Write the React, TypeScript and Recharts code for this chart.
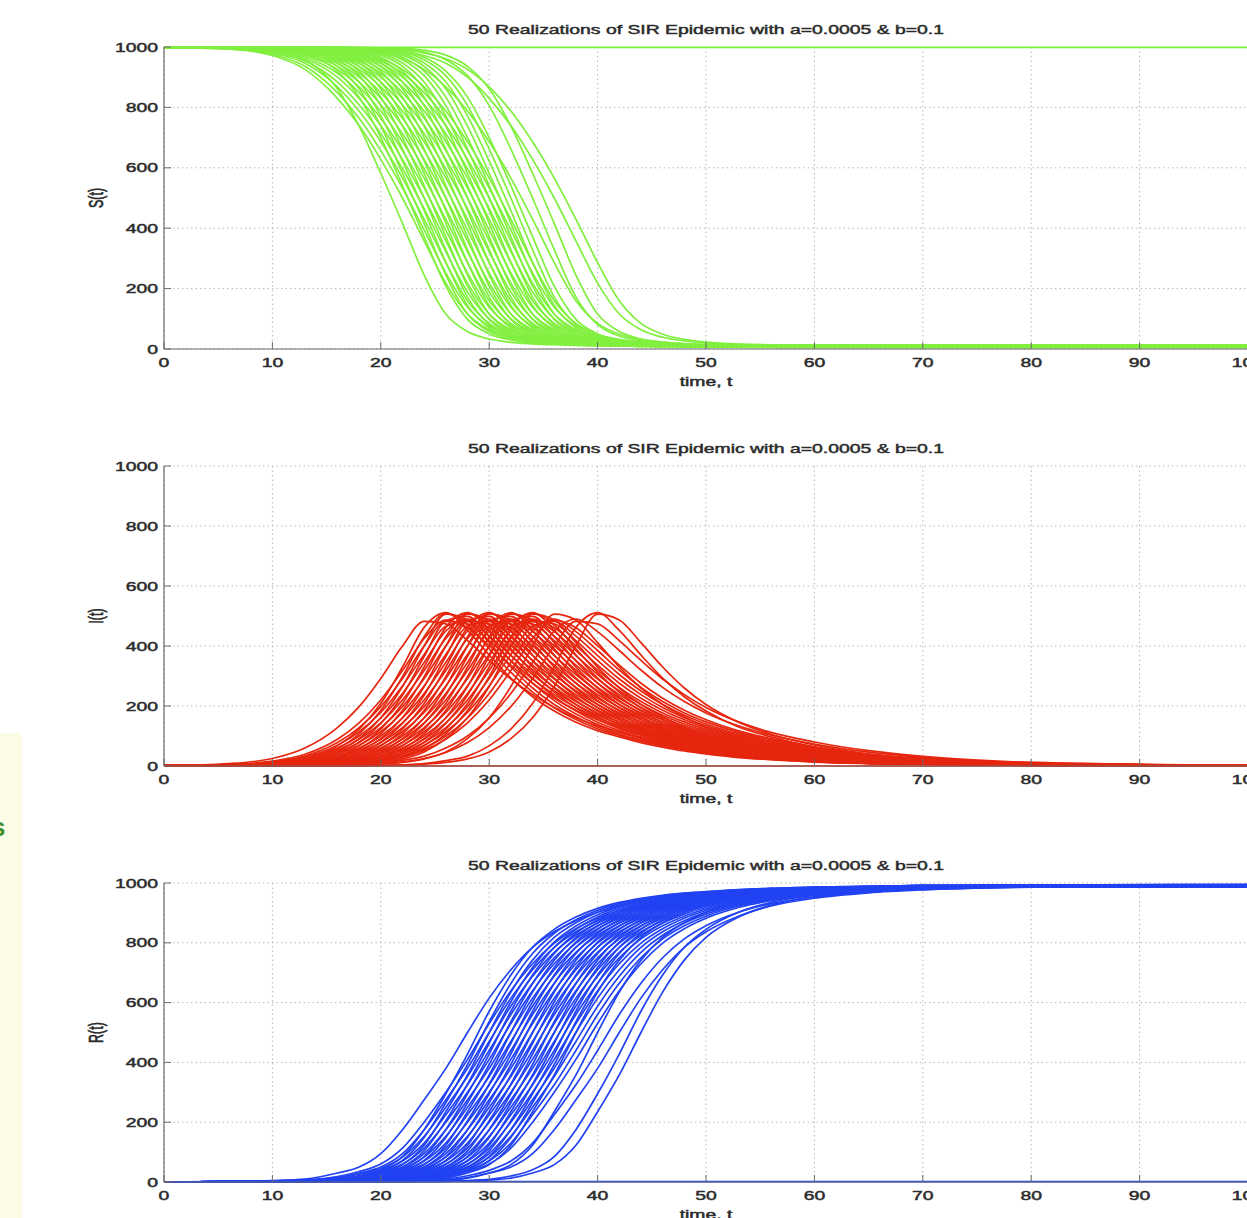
import React from 'react';
import { LineChart, Line, XAxis, YAxis, CartesianGrid } from 'recharts';

// ---------- data ----------
const TIME = [0, 6, 10, 13, 16, 18, 20, 22, 24, 26, 28, 30, 32, 34, 36, 38, 40, 42, 44, 46, 48, 50, 53, 56, 60, 65, 70, 80, 100];
const X_TICKS = [0, 10, 20, 30, 40, 50, 60, 70, 80, 90, 100];
const Y_TICKS = [0, 200, 400, 600, 800, 1000];
const TITLE = '50 Realizations of SIR Epidemic with a=0.0005 & b=0.1';
const X_LABEL = 'time, t';

const S_RUNS: number[][] = [
  [999, 997, 989, 958, 862, 738, 582, 416, 245, 116, 58, 33, 22, 17, 14, 12, 11, 11, 8, 8, 7, 7, 6, 6, 6, 6, 6, 6, 6],
  [999, 993, 972, 926, 830, 740, 628, 500, 358, 218, 116, 64, 39, 27, 20, 16, 14, 12, 11, 10, 10, 10, 10, 10, 10, 10, 10, 10, 10],
  [999, 998, 994, 978, 920, 834, 700, 541, 372, 208, 98, 50, 30, 20, 16, 13, 11, 11, 9, 9, 9, 8, 7, 7, 7, 7, 7, 7, 7],
  [999, 998, 995, 983, 936, 862, 738, 582, 416, 245, 116, 58, 33, 22, 17, 14, 12, 12, 12, 12, 12, 12, 12, 12, 12, 12, 12, 12, 12],
  [999, 996, 983, 954, 884, 809, 713, 597, 465, 322, 189, 100, 56, 35, 25, 19, 15, 13, 12, 11, 10, 10, 9, 9, 9, 9, 9, 9, 9],
  [999, 999, 996, 989, 958, 905, 806, 662, 500, 329, 172, 81, 43, 27, 19, 15, 13, 11, 11, 7, 7, 7, 6, 5, 5, 5, 5, 5, 5],
  [999, 996, 986, 961, 900, 830, 740, 628, 500, 358, 218, 116, 64, 39, 27, 20, 16, 14, 12, 11, 11, 11, 11, 11, 11, 11, 11, 11, 11],
  [999, 999, 997, 991, 966, 920, 834, 700, 541, 372, 208, 98, 50, 30, 20, 16, 13, 11, 11, 10, 10, 10, 9, 8, 8, 8, 8, 8, 8],
  [999, 999, 997, 993, 973, 936, 862, 738, 582, 416, 245, 116, 58, 33, 22, 17, 14, 13, 13, 13, 13, 13, 13, 13, 13, 13, 13, 13, 13],
  [999, 997, 990, 972, 926, 868, 788, 686, 566, 430, 286, 160, 85, 49, 32, 23, 18, 15, 13, 11, 11, 9, 8, 8, 7, 7, 7, 7, 7],
  [999, 999, 998, 994, 978, 947, 884, 772, 622, 458, 287, 144, 70, 38, 25, 18, 15, 13, 11, 11, 10, 10, 9, 9, 9, 9, 9, 9, 9],
  [999, 999, 998, 995, 983, 958, 905, 806, 662, 500, 329, 172, 81, 43, 27, 19, 15, 13, 11, 11, 8, 8, 7, 7, 6, 6, 6, 6, 6],
  [999, 998, 993, 980, 946, 900, 830, 740, 628, 500, 358, 218, 116, 64, 39, 27, 20, 16, 14, 12, 12, 12, 12, 12, 12, 12, 12, 12, 12],
  [999, 999, 998, 996, 986, 966, 920, 834, 700, 541, 372, 208, 98, 50, 30, 20, 16, 13, 11, 11, 10, 10, 9, 9, 8, 8, 8, 8, 8],
  [999, 999, 998, 996, 989, 973, 936, 862, 738, 582, 416, 245, 116, 58, 33, 22, 17, 14, 12, 11, 11, 10, 10, 10, 10, 10, 10, 10, 10],
  [999, 999, 995, 986, 961, 926, 868, 788, 686, 566, 430, 286, 160, 85, 49, 32, 23, 18, 15, 13, 11, 11, 7, 6, 5, 5, 5, 5, 5],
  [999, 999, 999, 997, 991, 978, 947, 884, 772, 622, 458, 287, 144, 70, 38, 25, 18, 15, 13, 11, 11, 10, 10, 9, 9, 9, 9, 9, 9],
  [999, 999, 999, 997, 993, 983, 958, 905, 806, 662, 500, 329, 172, 81, 43, 27, 19, 15, 13, 11, 11, 11, 11, 11, 11, 11, 11, 11, 11],
  [999, 999, 996, 990, 972, 946, 900, 830, 740, 628, 500, 358, 218, 116, 64, 39, 27, 20, 16, 14, 12, 11, 9, 8, 8, 7, 7, 7, 7],
  [999, 999, 999, 998, 994, 986, 966, 920, 834, 700, 541, 372, 208, 98, 50, 30, 20, 16, 13, 13, 13, 13, 13, 13, 13, 13, 13, 13, 13],
  [999, 999, 999, 998, 995, 989, 973, 936, 862, 738, 582, 416, 245, 116, 58, 33, 22, 17, 14, 12, 11, 11, 10, 9, 8, 8, 8, 8, 8],
  [999, 999, 998, 994, 983, 967, 936, 884, 809, 713, 597, 465, 322, 189, 100, 56, 35, 25, 19, 15, 13, 12, 8, 8, 7, 6, 6, 6, 6],
  [999, 999, 999, 998, 996, 993, 983, 958, 905, 806, 662, 500, 329, 172, 81, 43, 27, 19, 15, 13, 11, 11, 10, 10, 10, 10, 10, 10, 10],
  [999, 999, 999, 999, 997, 994, 986, 966, 920, 834, 700, 541, 372, 208, 98, 50, 30, 20, 16, 13, 11, 11, 10, 10, 9, 9, 9, 9, 9],
  [999, 999, 999, 996, 990, 980, 961, 926, 868, 788, 686, 566, 430, 286, 160, 85, 49, 32, 23, 18, 15, 13, 12, 12, 12, 12, 12, 12, 12],
  [999, 999, 999, 999, 998, 996, 991, 978, 947, 884, 772, 622, 458, 287, 144, 70, 38, 25, 18, 15, 13, 11, 9, 9, 8, 7, 7, 7, 7],
  [999, 999, 999, 999, 998, 996, 993, 983, 958, 905, 806, 662, 500, 329, 172, 81, 43, 27, 19, 15, 13, 11, 11, 11, 11, 11, 11, 11, 11],
  [999, 999, 999, 998, 995, 990, 980, 961, 926, 868, 788, 686, 566, 430, 286, 160, 85, 49, 32, 23, 18, 15, 12, 11, 7, 6, 5, 5, 5],
  [999, 999, 999, 999, 999, 998, 996, 993, 983, 958, 905, 806, 662, 500, 329, 172, 81, 43, 27, 19, 15, 13, 11, 10, 10, 9, 9, 9, 9],
  [999, 999, 999, 999, 999, 998, 997, 995, 989, 973, 936, 862, 738, 582, 416, 245, 116, 58, 33, 22, 17, 14, 11, 11, 10, 9, 8, 8, 8],
  [999, 999, 999, 999, 998, 996, 993, 986, 972, 946, 900, 830, 740, 628, 500, 358, 218, 116, 64, 39, 27, 20, 15, 14, 14, 14, 14, 14, 14],
  [999, 999, 999, 999, 999, 997, 995, 990, 980, 961, 926, 868, 788, 686, 566, 430, 286, 160, 85, 49, 32, 23, 16, 13, 11, 10, 10, 10, 10],
  [999, 995, 980, 946, 868, 788, 686, 566, 430, 286, 160, 85, 49, 32, 23, 18, 15, 13, 11, 11, 8, 8, 7, 6, 6, 6, 6, 6, 6],
  [999, 998, 994, 983, 954, 913, 849, 764, 657, 533, 394, 252, 138, 75, 44, 30, 22, 17, 15, 13, 11, 11, 11, 11, 11, 11, 11, 11, 11],
  [999, 999, 997, 992, 976, 954, 913, 849, 764, 657, 533, 394, 252, 138, 75, 44, 30, 22, 17, 15, 13, 11, 10, 10, 9, 8, 8, 8, 8],
  [999, 999, 998, 995, 986, 972, 946, 900, 830, 740, 628, 500, 358, 218, 116, 64, 39, 27, 20, 16, 14, 12, 12, 12, 12, 12, 12, 12, 12],
  [999, 994, 976, 936, 849, 764, 657, 533, 394, 252, 138, 75, 44, 30, 22, 17, 15, 13, 11, 10, 10, 10, 9, 9, 9, 9, 9, 9, 9],
  [999, 999, 996, 986, 947, 884, 772, 622, 458, 287, 144, 70, 38, 25, 18, 15, 13, 11, 11, 11, 11, 11, 11, 11, 11, 11, 11, 11, 11],
  [999, 997, 988, 967, 913, 849, 764, 657, 533, 394, 252, 138, 75, 44, 30, 22, 17, 15, 13, 11, 9, 9, 8, 8, 7, 7, 7, 7, 7],
  [999, 998, 992, 976, 936, 884, 809, 713, 597, 465, 322, 189, 100, 56, 35, 25, 19, 15, 13, 13, 13, 13, 13, 13, 13, 13, 13, 13, 13],
  [999, 999, 996, 988, 967, 936, 884, 809, 713, 597, 465, 322, 189, 100, 56, 35, 25, 19, 15, 13, 12, 11, 8, 7, 7, 6, 6, 6, 6],
  [999, 999, 997, 993, 980, 961, 926, 868, 788, 686, 566, 430, 286, 160, 85, 49, 32, 23, 18, 15, 13, 11, 10, 10, 10, 10, 10, 10, 10],
  [999, 999, 999, 998, 996, 991, 978, 947, 884, 772, 622, 458, 287, 144, 70, 38, 25, 18, 15, 13, 11, 11, 10, 10, 8, 8, 8, 8, 8],
  [999, 999, 998, 996, 988, 976, 954, 913, 849, 764, 657, 533, 394, 252, 138, 75, 44, 30, 22, 17, 15, 13, 12, 12, 12, 12, 12, 12, 12],
  [999, 999, 999, 999, 997, 995, 989, 973, 936, 862, 738, 582, 416, 245, 116, 58, 33, 22, 17, 14, 12, 11, 10, 10, 9, 9, 9, 9, 9],
  [999, 999, 999, 999, 998, 997, 994, 986, 966, 920, 834, 700, 541, 372, 208, 98, 50, 30, 20, 16, 13, 11, 11, 9, 8, 7, 7, 7, 7],
];
const S_FLAT = [999, 999, 999, 999, 999, 999, 999, 999, 999, 999, 999, 999, 999, 999, 999, 999, 999, 999, 999, 999, 999, 999, 999, 999, 999, 999, 999, 999, 999];

const I_RUNS: number[][] = [
  [1, 8, 25, 60, 128, 198, 292, 400, 482, 474, 418, 352, 290, 238, 195, 161, 134, 112, 95, 80, 67, 56, 42, 32, 22, 14, 9, 3, 0],
  [1, 3, 8, 24, 67, 123, 208, 330, 462, 511, 452, 370, 293, 231, 183, 146, 118, 97, 78, 63, 50, 40, 28, 21, 13, 8, 5, 2, 0],
  [1, 5, 16, 39, 89, 144, 220, 318, 425, 486, 461, 401, 336, 276, 226, 186, 154, 128, 107, 91, 76, 64, 48, 36, 25, 16, 10, 4, 1],
  [1, 4, 14, 33, 78, 128, 198, 292, 400, 482, 474, 418, 352, 290, 238, 195, 161, 134, 112, 95, 80, 67, 51, 38, 26, 17, 10, 4, 1],
  [1, 2, 5, 15, 40, 79, 142, 236, 365, 484, 499, 431, 350, 276, 218, 173, 138, 112, 92, 74, 60, 47, 34, 24, 16, 9, 6, 2, 0],
  [1, 3, 11, 25, 60, 100, 160, 242, 345, 450, 490, 448, 385, 320, 262, 215, 177, 147, 122, 103, 87, 73, 56, 42, 29, 18, 11, 5, 1],
  [1, 1, 4, 12, 33, 67, 123, 208, 330, 462, 511, 452, 370, 293, 231, 183, 146, 118, 97, 78, 63, 50, 36, 26, 17, 9, 6, 2, 0],
  [1, 3, 10, 22, 52, 89, 144, 220, 318, 425, 486, 461, 401, 336, 276, 226, 186, 154, 128, 107, 91, 76, 58, 44, 30, 19, 11, 5, 1],
  [1, 3, 8, 19, 45, 78, 128, 198, 292, 400, 482, 474, 418, 352, 290, 238, 195, 161, 134, 112, 95, 80, 61, 46, 32, 20, 12, 5, 1],
  [1, 1, 3, 8, 24, 47, 91, 161, 265, 400, 506, 487, 411, 330, 260, 205, 164, 130, 106, 87, 70, 57, 40, 28, 18, 10, 7, 3, 0],
  [1, 3, 7, 16, 39, 69, 114, 179, 267, 372, 466, 482, 433, 368, 305, 250, 205, 169, 140, 117, 99, 83, 64, 48, 33, 21, 13, 5, 1],
  [1, 2, 6, 14, 33, 60, 100, 160, 242, 345, 450, 490, 448, 385, 320, 262, 215, 177, 147, 122, 103, 87, 67, 51, 35, 22, 14, 6, 1],
  [1, 1, 3, 6, 18, 33, 67, 123, 208, 330, 462, 511, 452, 370, 293, 231, 183, 146, 118, 97, 78, 63, 45, 32, 21, 11, 7, 3, 0],
  [1, 2, 5, 13, 29, 52, 89, 144, 220, 318, 425, 486, 461, 401, 336, 276, 226, 186, 154, 128, 107, 91, 70, 54, 36, 23, 15, 6, 1],
  [1, 2, 4, 11, 25, 45, 78, 128, 198, 292, 400, 482, 474, 418, 352, 290, 238, 195, 161, 134, 112, 95, 73, 56, 38, 24, 15, 6, 1],
  [1, 1, 2, 4, 12, 24, 47, 91, 161, 265, 400, 506, 487, 411, 330, 260, 205, 164, 130, 106, 87, 70, 50, 36, 23, 13, 8, 3, 0],
  [1, 2, 4, 10, 22, 39, 69, 114, 179, 267, 372, 466, 482, 433, 368, 305, 250, 205, 169, 140, 117, 99, 76, 58, 40, 25, 16, 7, 1],
  [1, 1, 3, 8, 19, 33, 60, 100, 160, 242, 345, 450, 490, 448, 385, 320, 262, 215, 177, 147, 122, 103, 80, 61, 42, 26, 17, 7, 1],
  [1, 1, 1, 3, 8, 18, 33, 67, 123, 208, 330, 462, 511, 452, 370, 293, 231, 183, 146, 118, 97, 78, 57, 40, 26, 15, 9, 4, 0],
  [1, 1, 3, 7, 16, 29, 52, 89, 144, 220, 318, 425, 486, 461, 401, 336, 276, 226, 186, 154, 128, 107, 83, 64, 44, 28, 18, 7, 1],
  [1, 1, 3, 6, 14, 25, 45, 78, 128, 198, 292, 400, 482, 474, 418, 352, 290, 238, 195, 161, 134, 112, 87, 67, 46, 29, 18, 7, 1],
  [1, 1, 1, 2, 5, 10, 21, 40, 79, 142, 236, 365, 484, 499, 431, 350, 276, 218, 173, 138, 112, 92, 67, 47, 30, 18, 10, 5, 1],
  [1, 1, 2, 4, 11, 19, 33, 60, 100, 160, 242, 345, 450, 490, 448, 385, 320, 262, 215, 177, 147, 122, 95, 73, 51, 32, 20, 8, 1],
  [1, 1, 2, 4, 10, 16, 29, 52, 89, 144, 220, 318, 425, 486, 461, 401, 336, 276, 226, 186, 154, 128, 99, 76, 54, 33, 21, 9, 2],
  [1, 1, 1, 1, 3, 6, 12, 24, 47, 91, 161, 265, 400, 506, 487, 411, 330, 260, 205, 164, 130, 106, 78, 57, 36, 21, 11, 5, 1],
  [1, 1, 2, 3, 7, 13, 22, 39, 69, 114, 179, 267, 372, 466, 482, 433, 368, 305, 250, 205, 169, 140, 107, 83, 58, 36, 23, 9, 2],
  [1, 1, 1, 3, 6, 11, 19, 33, 60, 100, 160, 242, 345, 450, 490, 448, 385, 320, 262, 215, 177, 147, 112, 87, 61, 38, 24, 9, 2],
  [1, 1, 1, 1, 2, 3, 6, 12, 24, 47, 91, 161, 265, 400, 506, 487, 411, 330, 260, 205, 164, 130, 97, 70, 45, 26, 15, 6, 1],
  [1, 1, 1, 2, 3, 6, 11, 19, 33, 60, 100, 160, 242, 345, 450, 490, 448, 385, 320, 262, 215, 177, 134, 103, 73, 46, 29, 11, 2],
  [1, 1, 1, 1, 3, 4, 8, 14, 25, 45, 78, 128, 198, 292, 400, 482, 474, 418, 352, 290, 238, 195, 147, 112, 80, 51, 32, 12, 2],
  [1, 1, 1, 1, 1, 1, 3, 4, 8, 18, 33, 67, 123, 208, 330, 462, 511, 452, 370, 293, 231, 183, 130, 97, 63, 36, 21, 7, 1],
  [1, 1, 1, 1, 1, 1, 2, 3, 6, 12, 24, 47, 91, 161, 265, 400, 506, 487, 411, 330, 260, 205, 146, 106, 70, 40, 23, 8, 1],
  [1, 2, 6, 18, 47, 91, 161, 265, 400, 506, 487, 411, 330, 260, 205, 164, 130, 106, 87, 70, 57, 45, 32, 23, 15, 9, 6, 2, 0],
  [1, 1, 3, 5, 15, 29, 57, 107, 185, 298, 431, 509, 470, 391, 312, 246, 194, 155, 124, 102, 83, 67, 47, 34, 22, 12, 8, 3, 0],
  [1, 1, 1, 3, 7, 15, 29, 57, 107, 185, 298, 431, 509, 470, 391, 312, 246, 194, 155, 124, 102, 83, 60, 43, 27, 16, 9, 4, 1],
  [1, 1, 1, 2, 4, 8, 18, 33, 67, 123, 208, 330, 462, 511, 452, 370, 293, 231, 183, 146, 118, 97, 70, 50, 32, 18, 10, 5, 1],
  [1, 2, 7, 21, 57, 107, 185, 298, 431, 509, 470, 391, 312, 246, 194, 155, 124, 102, 83, 67, 54, 43, 30, 22, 14, 9, 6, 2, 0],
  [1, 4, 13, 29, 69, 114, 179, 267, 372, 466, 482, 433, 368, 305, 250, 205, 169, 140, 117, 99, 83, 70, 54, 40, 28, 18, 10, 4, 1],
  [1, 1, 4, 10, 29, 57, 107, 185, 298, 431, 509, 470, 391, 312, 246, 194, 155, 124, 102, 83, 67, 54, 38, 27, 18, 10, 7, 2, 0],
  [1, 1, 3, 7, 21, 40, 79, 142, 236, 365, 484, 499, 431, 350, 276, 218, 173, 138, 112, 92, 74, 60, 43, 30, 20, 11, 7, 3, 0],
  [1, 1, 2, 4, 10, 21, 40, 79, 142, 236, 365, 484, 499, 431, 350, 276, 218, 173, 138, 112, 92, 74, 54, 38, 24, 14, 9, 4, 1],
  [1, 1, 1, 3, 6, 12, 24, 47, 91, 161, 265, 400, 506, 487, 411, 330, 260, 205, 164, 130, 106, 87, 63, 45, 28, 17, 9, 4, 1],
  [1, 1, 3, 5, 13, 22, 39, 69, 114, 179, 267, 372, 466, 482, 433, 368, 305, 250, 205, 169, 140, 117, 91, 70, 48, 30, 19, 8, 2],
  [1, 1, 1, 2, 4, 7, 15, 29, 57, 107, 185, 298, 431, 509, 470, 391, 312, 246, 194, 155, 124, 102, 74, 54, 34, 20, 11, 5, 1],
  [1, 1, 2, 3, 8, 14, 25, 45, 78, 128, 198, 292, 400, 482, 474, 418, 352, 290, 238, 195, 161, 134, 103, 80, 56, 35, 22, 9, 2],
  [1, 1, 1, 3, 5, 10, 16, 29, 52, 89, 144, 220, 318, 425, 486, 461, 401, 336, 276, 226, 186, 154, 117, 91, 64, 40, 25, 10, 2],
];
const I_FLAT = [1, 0, 0, 0, 0, 0, 0, 0, 0, 0, 0, 0, 0, 0, 0, 0, 0, 0, 0, 0, 0, 0, 0, 0, 0, 0, 0, 0, 0];

const R_RUNS: number[][] = [
  [0, 2, 5, 10, 30, 50, 95, 175, 275, 380, 500, 615, 710, 785, 837, 874, 902, 923, 938, 949, 957, 964, 971, 977, 982, 986, 988, 993, 994],
  [0, 1, 2, 4, 9, 20, 41, 85, 175, 295, 428, 571, 692, 785, 845, 886, 915, 935, 949, 959, 966, 971, 978, 982, 986, 989, 990, 990, 990],
  [0, 1, 4, 7, 18, 35, 60, 113, 200, 300, 410, 530, 640, 730, 799, 847, 882, 908, 927, 941, 951, 959, 968, 974, 980, 985, 988, 991, 993],
  [0, 1, 3, 6, 15, 30, 50, 95, 175, 275, 380, 500, 615, 710, 785, 837, 874, 902, 923, 938, 949, 957, 967, 973, 979, 985, 987, 988, 988],
  [0, 1, 1, 3, 6, 11, 25, 50, 104, 205, 327, 464, 603, 717, 802, 856, 894, 921, 939, 952, 961, 968, 975, 980, 985, 988, 990, 991, 991],
  [0, 1, 2, 5, 10, 21, 39, 70, 130, 225, 325, 440, 560, 665, 750, 813, 857, 889, 913, 931, 944, 953, 964, 971, 978, 984, 987, 993, 995],
  [0, 1, 1, 2, 5, 9, 20, 41, 85, 175, 295, 428, 571, 692, 785, 845, 886, 915, 935, 949, 959, 966, 974, 979, 985, 988, 989, 989, 989],
  [0, 1, 2, 5, 9, 18, 35, 60, 113, 200, 300, 410, 530, 640, 730, 799, 847, 882, 908, 927, 941, 951, 963, 970, 978, 984, 987, 990, 992],
  [0, 1, 2, 4, 8, 15, 30, 50, 95, 175, 275, 380, 500, 615, 710, 785, 837, 874, 902, 923, 938, 949, 961, 969, 977, 983, 986, 987, 987],
  [0, 1, 1, 2, 4, 6, 13, 30, 58, 123, 235, 358, 500, 635, 742, 818, 867, 902, 926, 943, 954, 963, 971, 978, 984, 987, 991, 992, 993],
  [0, 1, 2, 4, 7, 13, 26, 45, 83, 153, 250, 353, 470, 588, 688, 768, 825, 866, 896, 918, 935, 947, 959, 968, 976, 983, 986, 989, 991],
  [0, 1, 1, 3, 6, 10, 21, 39, 70, 130, 225, 325, 440, 560, 665, 750, 813, 857, 889, 913, 931, 944, 957, 967, 975, 982, 986, 991, 994],
  [0, 0, 1, 1, 3, 5, 9, 20, 41, 85, 175, 295, 428, 571, 692, 785, 845, 886, 915, 935, 949, 959, 969, 976, 982, 987, 988, 988, 988],
  [0, 1, 1, 3, 6, 9, 18, 35, 60, 113, 200, 300, 410, 530, 640, 730, 799, 847, 882, 908, 927, 941, 955, 966, 974, 982, 986, 989, 992],
  [0, 1, 1, 2, 5, 8, 15, 30, 50, 95, 175, 275, 380, 500, 615, 710, 785, 837, 874, 902, 923, 938, 953, 964, 973, 981, 985, 989, 990],
  [0, 0, 1, 1, 2, 4, 6, 13, 30, 58, 123, 235, 358, 500, 635, 742, 818, 867, 902, 926, 943, 954, 966, 974, 981, 986, 992, 993, 995],
  [0, 1, 1, 2, 5, 7, 13, 26, 45, 83, 153, 250, 353, 470, 588, 688, 768, 825, 866, 896, 918, 935, 951, 963, 972, 980, 985, 989, 991],
  [0, 0, 1, 2, 4, 6, 10, 21, 39, 70, 130, 225, 325, 440, 560, 665, 750, 813, 857, 889, 913, 931, 949, 961, 971, 979, 985, 989, 989],
  [0, 0, 1, 1, 2, 3, 5, 9, 20, 41, 85, 175, 295, 428, 571, 692, 785, 845, 886, 915, 935, 949, 963, 971, 979, 985, 988, 991, 993],
  [0, 0, 1, 2, 4, 6, 9, 18, 35, 60, 113, 200, 300, 410, 530, 640, 730, 799, 847, 882, 908, 927, 947, 959, 970, 979, 985, 987, 987],
  [0, 0, 1, 1, 3, 5, 8, 15, 30, 50, 95, 175, 275, 380, 500, 615, 710, 785, 837, 874, 902, 923, 944, 957, 969, 978, 984, 989, 992],
  [0, 0, 1, 1, 1, 2, 4, 6, 11, 25, 50, 104, 205, 327, 464, 603, 717, 802, 856, 894, 921, 939, 957, 968, 977, 985, 988, 992, 994],
  [0, 0, 1, 1, 2, 4, 6, 10, 21, 39, 70, 130, 225, 325, 440, 560, 665, 750, 813, 857, 889, 913, 938, 953, 967, 977, 983, 989, 990],
  [0, 0, 1, 1, 2, 4, 6, 9, 18, 35, 60, 113, 200, 300, 410, 530, 640, 730, 799, 847, 882, 908, 935, 951, 966, 976, 983, 989, 991],
  [0, 0, 0, 1, 1, 1, 2, 4, 6, 13, 30, 58, 123, 235, 358, 500, 635, 742, 818, 867, 902, 926, 949, 963, 974, 982, 987, 988, 988],
  [0, 0, 1, 1, 2, 3, 5, 7, 13, 26, 45, 83, 153, 250, 353, 470, 588, 688, 768, 825, 866, 896, 927, 947, 963, 974, 982, 988, 993],
  [0, 0, 0, 1, 1, 2, 4, 6, 10, 21, 39, 70, 130, 225, 325, 440, 560, 665, 750, 813, 857, 889, 923, 944, 961, 973, 981, 988, 989],
  [0, 0, 0, 0, 1, 1, 1, 2, 4, 6, 13, 30, 58, 123, 235, 358, 500, 635, 742, 818, 867, 902, 935, 954, 969, 979, 985, 993, 995],
  [0, 0, 0, 1, 1, 1, 2, 4, 6, 10, 21, 39, 70, 130, 225, 325, 440, 560, 665, 750, 813, 857, 902, 931, 953, 969, 978, 987, 991],
  [0, 0, 0, 0, 1, 1, 2, 3, 5, 8, 15, 30, 50, 95, 175, 275, 380, 500, 615, 710, 785, 837, 889, 923, 949, 967, 977, 986, 992],
  [0, 0, 0, 0, 0, 1, 1, 1, 2, 3, 5, 9, 20, 41, 85, 175, 295, 428, 571, 692, 785, 845, 902, 935, 959, 974, 982, 986, 986],
  [0, 0, 0, 0, 0, 1, 1, 1, 1, 2, 4, 6, 13, 30, 58, 123, 235, 358, 500, 635, 742, 818, 886, 926, 954, 971, 981, 989, 990],
  [0, 1, 1, 3, 6, 13, 30, 58, 123, 235, 358, 500, 635, 742, 818, 867, 902, 926, 943, 954, 963, 969, 976, 981, 985, 988, 992, 993, 994],
  [0, 0, 1, 1, 3, 5, 8, 17, 36, 72, 149, 265, 393, 536, 664, 764, 832, 877, 909, 931, 946, 957, 968, 975, 982, 987, 989, 989, 989],
  [0, 0, 1, 1, 2, 3, 5, 8, 17, 36, 72, 149, 265, 393, 536, 664, 764, 832, 877, 909, 931, 946, 961, 970, 979, 985, 988, 990, 992],
  [0, 0, 0, 1, 1, 2, 3, 5, 9, 20, 41, 85, 175, 295, 428, 571, 692, 785, 845, 886, 915, 935, 954, 966, 976, 984, 987, 988, 988],
  [0, 1, 1, 4, 8, 17, 36, 72, 149, 265, 393, 536, 664, 764, 832, 877, 909, 931, 946, 957, 965, 970, 977, 982, 986, 989, 990, 991, 991],
  [0, 1, 3, 6, 13, 26, 45, 83, 153, 250, 353, 470, 588, 688, 768, 825, 866, 896, 918, 935, 947, 955, 966, 972, 979, 985, 987, 989, 989],
  [0, 1, 1, 2, 5, 8, 17, 36, 72, 149, 265, 393, 536, 664, 764, 832, 877, 909, 931, 946, 957, 965, 973, 979, 985, 988, 991, 992, 993],
  [0, 0, 1, 1, 4, 6, 11, 25, 50, 104, 205, 327, 464, 603, 717, 802, 856, 894, 921, 939, 952, 961, 970, 977, 983, 987, 987, 987, 987],
  [0, 0, 1, 1, 2, 4, 6, 11, 25, 50, 104, 205, 327, 464, 603, 717, 802, 856, 894, 921, 939, 952, 965, 973, 980, 986, 991, 993, 994],
  [0, 0, 1, 1, 1, 2, 4, 6, 13, 30, 58, 123, 235, 358, 500, 635, 742, 818, 867, 902, 926, 943, 959, 969, 978, 985, 988, 990, 990],
  [0, 0, 1, 1, 3, 5, 7, 13, 26, 45, 83, 153, 250, 353, 470, 588, 688, 768, 825, 866, 896, 918, 941, 955, 968, 978, 984, 989, 992],
  [0, 0, 0, 1, 1, 1, 3, 5, 8, 17, 36, 72, 149, 265, 393, 536, 664, 764, 832, 877, 909, 931, 952, 965, 975, 983, 987, 988, 988],
  [0, 0, 1, 1, 2, 3, 5, 8, 15, 30, 50, 95, 175, 275, 380, 500, 615, 710, 785, 837, 874, 902, 931, 949, 964, 975, 982, 988, 991],
  [0, 0, 0, 1, 1, 2, 4, 6, 9, 18, 35, 60, 113, 200, 300, 410, 530, 640, 730, 799, 847, 882, 918, 941, 959, 972, 980, 988, 993],
];
const R_FLAT = [0, 1, 1, 1, 1, 1, 1, 1, 1, 1, 1, 1, 1, 1, 1, 1, 1, 1, 1, 1, 1, 1, 1, 1, 1, 1, 1, 1, 1];

// ---------- styling ----------
const FONT = '"Liberation Sans", Arial, Helvetica, sans-serif';
const TEXT_FILL = '#2b2b2b';
const STRETCH = 1.55;
const AXIS_COLOR = '#6a6a6a';
const MARGIN_TOP = 30;
const XAXIS_H = 45;
const LINE_W = 1.7;

function buildRows(runs: number[][], flat: number[]) {
  return TIME.map((t, i) => {
    const row: Record<string, number> = { t, flat: flat[i] };
    runs.forEach((run, k) => {
      row['r' + k] = run[i];
    });
    return row;
  });
}

const textStyle = {
  fontFamily: FONT,
  fontSize: 12.5,
  fill: TEXT_FILL,
  stroke: TEXT_FILL,
  strokeWidth: 0.45,
};

function XTick(props: any) {
  const { x, y, payload } = props;
  return (
    <g>
      <line x1={x} x2={x} y1={y - 7} y2={y - 14} stroke={AXIS_COLOR} strokeWidth={1} />
      <text
        transform={`translate(${x} ${y + 6}) scale(${STRETCH} 1)`}
        textAnchor="middle"
        dominantBaseline="central"
        style={textStyle}
      >
        {payload.value}
      </text>
    </g>
  );
}

function YTick(props: any) {
  const { x, y, payload } = props;
  return (
    <g>
      <line x1={x + 6} x2={x + 13} y1={y} y2={y} stroke={AXIS_COLOR} strokeWidth={1} />
      <text
        transform={`translate(${x} ${y}) scale(${STRETCH} 1)`}
        textAnchor="end"
        dominantBaseline="central"
        style={textStyle}
      >
        {payload.value}
      </text>
    </g>
  );
}

type PanelProps = {
  plotTop: number;
  plotHeight: number;
  runs: number[][];
  flat: number[];
  color: string;
  yLabel: string;
};

function Panel({ plotTop, plotHeight, runs, flat, color, yLabel }: PanelProps) {
  const data = buildRows(runs, flat);
  const plotLeft = 164;
  const plotRight = 1248;
  const cx = (plotLeft + plotRight) / 2;
  const xLabelContent = () => (
    <g>
      <text
        transform={`translate(${cx} ${MARGIN_TOP - 18}) scale(${STRETCH} 1)`}
        textAnchor="middle"
        dominantBaseline="central"
        style={textStyle}
      >
        {TITLE}
      </text>
      <text
        transform={`translate(${cx} ${MARGIN_TOP + plotHeight + 32}) scale(${STRETCH} 1)`}
        textAnchor="middle"
        dominantBaseline="central"
        style={textStyle}
      >
        {X_LABEL}
      </text>
    </g>
  );
  const yLabelContent = () => (
    <text
      transform={`translate(96 ${MARGIN_TOP + plotHeight / 2}) scale(${STRETCH} 1) rotate(-90)`}
      textAnchor="middle"
      dominantBaseline="central"
      style={textStyle}
    >
      {yLabel}
    </text>
  );
  return (
    <div style={{ position: 'absolute', left: 0, top: plotTop - MARGIN_TOP }}>
      <LineChart
        width={plotRight + 10}
        height={MARGIN_TOP + plotHeight + XAXIS_H}
        data={data}
        margin={{ top: MARGIN_TOP, right: 10, bottom: 0, left: plotLeft - 60 }}
      >
        <CartesianGrid stroke="#b8b8b8" strokeDasharray="1.5 3" />
        <XAxis
          dataKey="t"
          type="number"
          domain={[0, 100]}
          ticks={X_TICKS}
          interval={0}
          height={XAXIS_H}
          tickSize={0}
          tickMargin={7}
          tickLine={false}
          axisLine={{ stroke: AXIS_COLOR, strokeWidth: 1.2 }}
          tick={(p: any) => <XTick {...p} />}
          label={xLabelContent}
        />
        <YAxis
          type="number"
          domain={[0, 1000]}
          ticks={Y_TICKS}
          interval={0}
          width={60}
          tickSize={0}
          tickMargin={6}
          tickLine={false}
          axisLine={{ stroke: AXIS_COLOR, strokeWidth: 1.2 }}
          tick={(p: any) => <YTick {...p} />}
          label={yLabelContent}
        />
        <Line
          dataKey="flat"
          type="monotone"
          stroke={color}
          strokeWidth={LINE_W}
          dot={false}
          activeDot={false}
          isAnimationActive={false}
        />
        {runs.map((_, k) => (
          <Line
            key={k}
            dataKey={'r' + k}
            type="monotone"
            stroke={color}
            strokeWidth={LINE_W}
            dot={false}
            activeDot={false}
            isAnimationActive={false}
          />
        ))}
      </LineChart>
    </div>
  );
}

export default function App() {
  return (
    <div
      style={{
        position: 'absolute',
        left: 0,
        top: 0,
        width: 1247,
        height: 1218,
        overflow: 'hidden',
        background: '#ffffff',
      }}
    >
      <div
        style={{
          position: 'absolute',
          left: 0,
          top: 733,
          width: 22,
          height: 485,
          background: '#fcfce6',
        }}
      />
      <div
        style={{
          position: 'absolute',
          left: -9,
          top: 812,
          fontFamily: FONT,
          fontWeight: 'bold',
          fontSize: 26,
          color: '#3d8f2c',
          lineHeight: '30px',
        }}
      >
        s
      </div>
      <Panel plotTop={47} plotHeight={302} runs={S_RUNS} flat={S_FLAT} color="#80ef3e" yLabel="S(t)" />
      <Panel plotTop={466} plotHeight={300} runs={I_RUNS} flat={I_FLAT} color="#e6260f" yLabel="I(t)" />
      <Panel plotTop={883} plotHeight={299} runs={R_RUNS} flat={R_FLAT} color="#2142f2" yLabel="R(t)" />
    </div>
  );
}
